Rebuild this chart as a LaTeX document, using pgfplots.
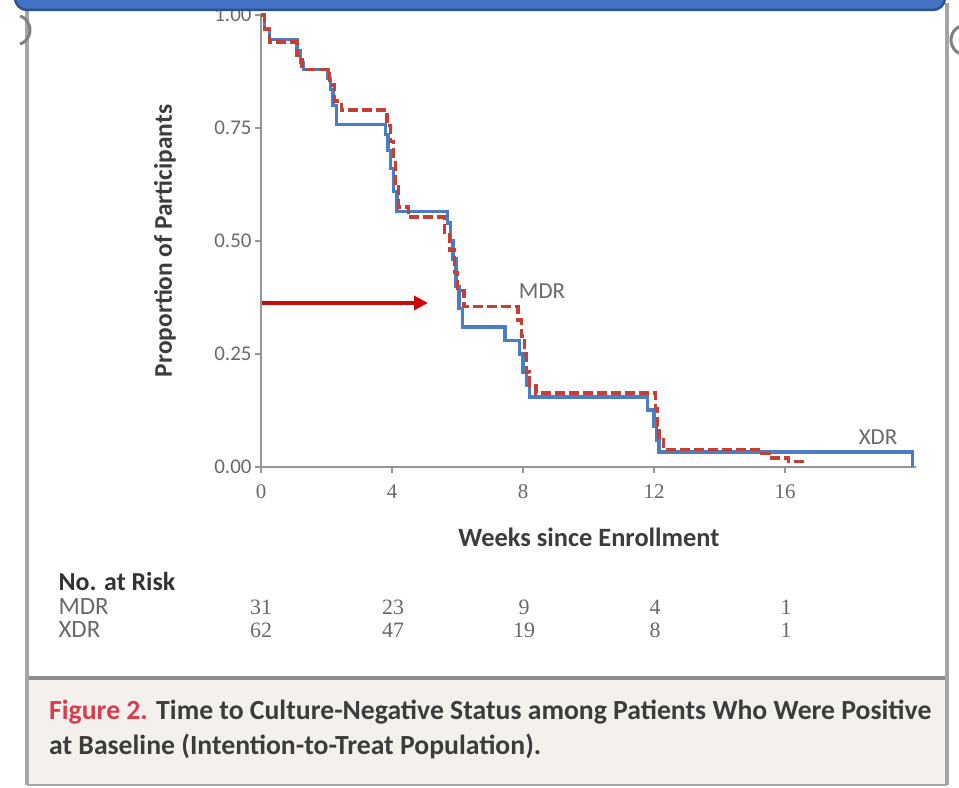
\documentclass[border=0pt]{standalone}
\usepackage{pgfplots}
\pgfplotsset{compat=1.18}
\usepackage{fontspec}
\setmainfont{Carlito}
\newfontfamily\serifnum{Liberation Serif}
\usetikzlibrary{arrows.meta}
\definecolor{xdrblue}{RGB}{74,126,196}
\definecolor{mdrred}{RGB}{196,64,52}
\definecolor{txtgray}{RGB}{105,105,105}
\definecolor{labgray}{RGB}{60,60,60}
\definecolor{axgray}{RGB}{150,150,150}
\definecolor{framegray}{RGB}{165,165,165}
\definecolor{banner}{RGB}{68,114,196}
\definecolor{bannerdark}{RGB}{47,82,143}
\definecolor{capbg}{RGB}{244,241,236}
\definecolor{capred}{RGB}{215,60,80}
\definecolor{arrowred}{RGB}{200,10,10}
\begin{document}
\begin{tikzpicture}[x=1bp,y=1bp]
\path[use as bounding box, fill=white] (0,0) rectangle (959,788);
\clip (0,0) rectangle (959,788);
% caption box
\fill[capbg] (27,3) rectangle (947,110);
\draw[line width=4bp, color=black!45] (27,110) -- (947,110);
\draw[line width=2.5bp, color=framegray] (27,3) -- (947,3);
% frame
\draw[line width=3.5bp, color=framegray] (27,3) -- (27,785);
\draw[line width=3.5bp, color=framegray] (947,3) -- (947,785);
% slide handles
\draw[line width=3bp, color=black!50] (15,758) ++(-70:15) arc[start angle=-70, end angle=70, radius=15];
\draw[line width=3bp, color=black!50] (966,748) ++(110:15) arc[start angle=110, end angle=250, radius=15];
\begin{axis}[
  at={(261bp,321bp)}, anchor=south west,
  scale only axis, width=655bp, height=452bp,
  xmin=0, xmax=20, ymin=0, ymax=1,
  axis x line=bottom, axis y line=left,
  axis line style={-, line width=2.5bp, color=axgray},
  tick align=outside, major tick length=6bp,
  tick style={color=axgray, line width=1.5bp},
  xtick={0,4,8,12,16}, xticklabels={0,4,8,12,16},
  ytick={0,0.25,0.5,0.75,1}, yticklabels={0.00,0.25,0.50,0.75,1.00},
  xticklabel style={font=\serifnum\fontsize{21}{21}\selectfont, text=txtgray, yshift=-8bp},
  yticklabel style={font=\fontsize{21}{21}\selectfont, text=txtgray},
  clip=false,
]
\addplot[const plot, color=xdrblue, line width=3.3bp] coordinates {
(0,1.0)(0.1,0.97)(0.25,0.945)(1.1,0.92)(1.2,0.895)(1.3,0.88)(2.05,0.86)(2.12,0.835)(2.2,0.80)(2.3,0.757)(3.8,0.735)(3.88,0.70)(3.96,0.66)(4.05,0.61)(4.15,0.565)(5.7,0.54)(5.78,0.50)(5.86,0.46)(5.95,0.40)(6.05,0.35)(6.15,0.31)(7.45,0.28)(7.9,0.25)(8.0,0.21)(8.1,0.18)(8.2,0.155)(11.8,0.126)(12.0,0.09)(12.08,0.06)(12.15,0.033)(19.9,0.0)
};
\addplot[const plot, color=mdrred, line width=3.3bp, dash pattern=on 10bp off 4bp] coordinates {
(0,1.0)(0.1,0.968)(0.25,0.94)(1.1,0.91)(1.25,0.88)(2.1,0.845)(2.25,0.81)(2.45,0.79)(3.85,0.755)(3.95,0.72)(4.05,0.68)(4.1,0.62)(4.2,0.575)(4.5,0.553)(5.6,0.52)(5.75,0.48)(5.9,0.43)(6.0,0.39)(6.2,0.355)(7.85,0.325)(7.95,0.29)(8.05,0.25)(8.1,0.21)(8.2,0.18)(8.4,0.164)(12.05,0.13)(12.1,0.09)(12.15,0.06)(12.3,0.038)(15.3,0.03)(15.6,0.02)(16.1,0.012)(16.6,0.008)
};
\node[font=\fontsize{23}{23}\selectfont, text=txtgray] at (axis cs:8.58,0.39) {MDR};
\node[font=\fontsize{23}{23}\selectfont, text=txtgray] at (axis cs:18.84,0.066) {XDR};
\end{axis}
% arrow
\draw[-{Triangle[length=14bp,width=14bp]}, line width=3.5bp, color=arrowred] (262,485) -- (428,485);
% axis labels
\node[rotate=90, font=\bfseries\fontsize{25.5}{25.5}\selectfont, text=labgray] at (165,547) {Proportion of Participants};
\node[font=\bfseries\fontsize{26.5}{26.5}\selectfont, text=labgray] at (589,251) {Weeks since Enrollment};
% at risk table
\node[anchor=west, font=\bfseries\fontsize{26}{26}\selectfont, text=black!80] at (55,206) {No. at Risk};
\node[anchor=west, font=\fontsize{25}{25}\selectfont, text=txtgray] at (55,181) {MDR};
\node[anchor=west, font=\fontsize{25}{25}\selectfont, text=txtgray] at (55,158) {XDR};
\foreach \xx/\a/\b in {261/31/62, 393/23/47, 524/9/19, 655/4/8, 786/1/1} {
  \node[font=\serifnum\fontsize{22}{22}\selectfont, text=txtgray] at (\xx,181) {\a};
  \node[font=\serifnum\fontsize{22}{22}\selectfont, text=txtgray] at (\xx,158) {\b};
}
% caption
\node[anchor=west, font=\bfseries\fontsize{27.8}{27.8}\selectfont, text=labgray, inner sep=0pt] at (49,76) {\textcolor{capred}{Figure 2.} Time to Culture-Negative Status among Patients Who Were Positive};
\node[anchor=west, font=\bfseries\fontsize{27.8}{27.8}\selectfont, text=labgray, inner sep=0pt] at (49,42) {at Baseline (Intention-to-Treat Population).};
% banner
\draw[fill=banner, draw=bannerdark, line width=2.5bp, rounded corners=12bp] (15,778) rectangle (945,830);
\end{tikzpicture}
\end{document}
